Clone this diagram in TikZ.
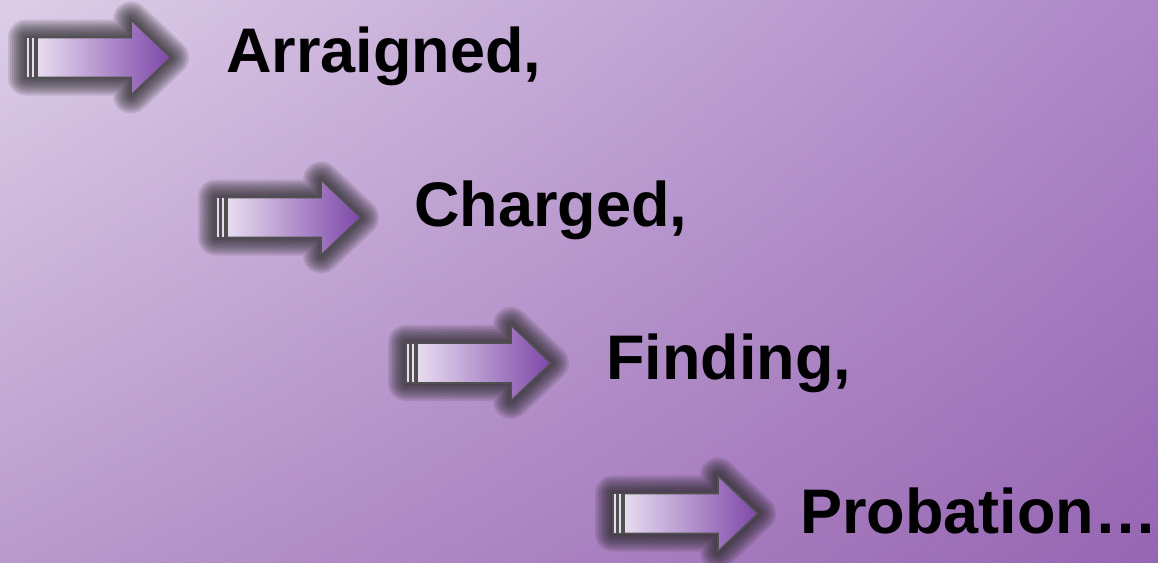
\documentclass[tikz,border=0pt]{standalone}
\usepackage{fontspec}
\setmainfont{Liberation Sans}
\usetikzlibrary{patterns,shadings}
\definecolor{bgUL}{HTML}{DCCDE6}
\definecolor{bgUR}{HTML}{AA82C6}
\definecolor{bgLL}{HTML}{B796CB}
\definecolor{bgLR}{HTML}{9360B0}
\definecolor{arrLight}{HTML}{E8DCF0}
\definecolor{arrDark}{HTML}{7D47A8}
\definecolor{arrEdge}{HTML}{505050}
\tikzset{
  x=1pt, y=-1pt,
  txtlabel/.style={inner sep=0pt, anchor=base west, font=\bfseries\fontsize{63}{70}\selectfont, text=black},
  edge/.style={draw=arrEdge, line width=1.8pt, line join=miter},
  glow/.style={draw=black!85, fill=black!85, line join=round, opacity=0.13},
}
\newcommand\fatarrow[2]{%
  \foreach \w in {36,32,28,24,20,16,12,8,4}{
    \path[glow, line width=\w pt] (#1,#2-20) -- (#1+105,#2-20) -- (#1+105,#2-38) -- (#1+145,#2) -- (#1+105,#2+38) -- (#1+105,#2+20) -- (#1,#2+20) -- cycle;
  }
  \path[fill=arrEdge] (#1,#2-20) rectangle (#1+12,#2+20);
  \path[edge, fill=arrLight] (#1,#2-20) rectangle (#1+3.5,#2+20);
  \path[edge, fill=arrLight] (#1+5.5,#2-20) rectangle (#1+9,#2+20);
  \path[edge, left color=arrLight, right color=arrDark] (#1+11,#2-20) -- (#1+105,#2-20) -- (#1+105,#2-38) -- (#1+145,#2) -- (#1+105,#2+38) -- (#1+105,#2+20) -- (#1+11,#2+20) -- cycle;
}
\begin{document}
\begin{tikzpicture}
\useasboundingbox (0,0) rectangle (1158,562);
\shade[upper left=bgUL, upper right=bgUR, lower left=bgLL, lower right=bgLR] (0,0) rectangle (1158,562);
\fill[pattern=north east lines, pattern color=white, opacity=0.12] (0,0) rectangle (1158,562);
\fatarrow{26}{57.5}
\fatarrow{216}{217.5}
\fatarrow{406}{363}
\fatarrow{613}{513.5}
\node[txtlabel] (t1) at (226,72) {Arraigned,};
\node[txtlabel] (t2) at (414,226) {Charged,};
\node[txtlabel] (t3) at (606,379) {Finding,};
\node[txtlabel] (t4) at (800,533) {Probation…};
\end{tikzpicture}
\end{document}
